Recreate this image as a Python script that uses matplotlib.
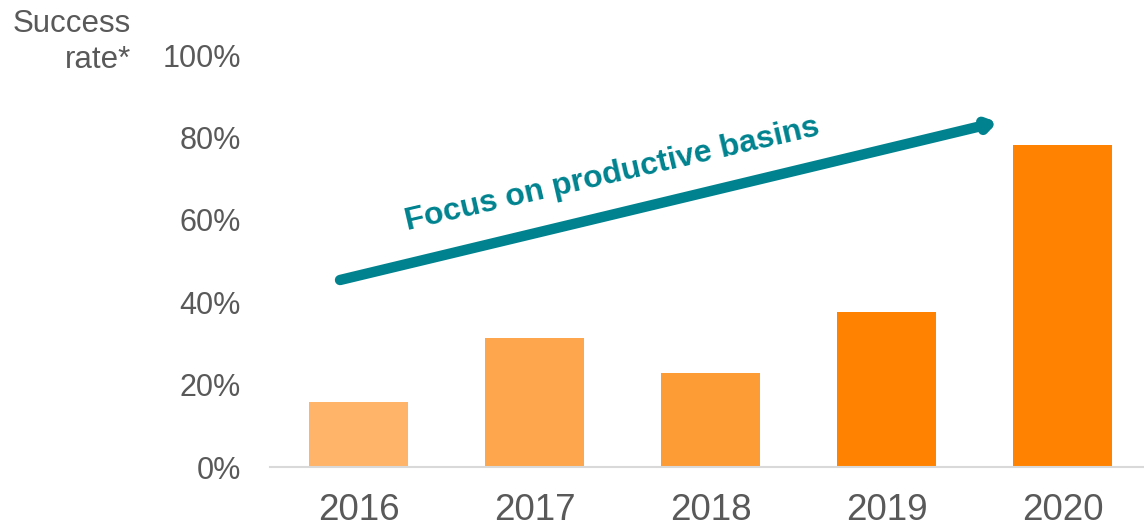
import numpy as np
import matplotlib.pyplot as plt
from matplotlib.ticker import FuncFormatter

plt.rcParams['font.family'] = ['Liberation Sans', 'DejaVu Sans']

years = ["2016", "2017", "2018", "2019", "2020"]
success_rate = [0.158, 0.313, 0.228, 0.376, 0.782]
bar_colors = ["#FFB469", "#FDA64D", "#FD9B35", "#FF8300", "#FF8300"]
yticks = [0, 0.2, 0.4, 0.6, 0.8, 1.0]

grey = "#595959"
teal = "#00838F"

fig = plt.figure(figsize=(11.44, 5.26), dpi=100)
ax = fig.add_axes([0.236, 0.112, 0.764, 0.7834])

x = np.arange(len(years))
ax.bar(x, success_rate, width=0.5625, color=bar_colors, zorder=2)

ax.set_xlim(-0.503, 4.463)
ax.set_ylim(0, 1.0)
ax.set_xticks(x)
ax.set_xticklabels(years)
ax.set_yticks(yticks)
ax.yaxis.set_major_formatter(FuncFormatter(lambda v, p: f"{v*100:.0f}%"))
ax.tick_params(axis='x', length=0, pad=19, labelsize=26.5, labelcolor=grey)
ax.tick_params(axis='y', length=0, pad=21, labelsize=22, labelcolor=grey)

for s in ["top", "right", "left"]:
    ax.spines[s].set_visible(False)
ax.spines["bottom"].set_color("#D9D9D9")
ax.spines["bottom"].set_linewidth(1.5)

# trend arrow
ax.annotate("", xy=(3.63, 0.837), xytext=(-0.105, 0.454),
            arrowprops=dict(arrowstyle="-|>,head_length=0.45,head_width=0.3",
                            color=teal, lw=7.5, shrinkA=0, shrinkB=0),
            annotation_clip=False, zorder=3)
ax.text(1.44, 0.71, "Focus on productive basins", color=teal, fontsize=23,
        fontweight="bold", rotation=13, rotation_mode="anchor",
        ha="center", va="center")

fig.text(131 / 1144, 1 - 9 / 526, "Success\nrate*", ha="right", va="top",
         fontsize=22.5, color=grey, linespacing=1.25)

fig.savefig("out.png", dpi=100)
